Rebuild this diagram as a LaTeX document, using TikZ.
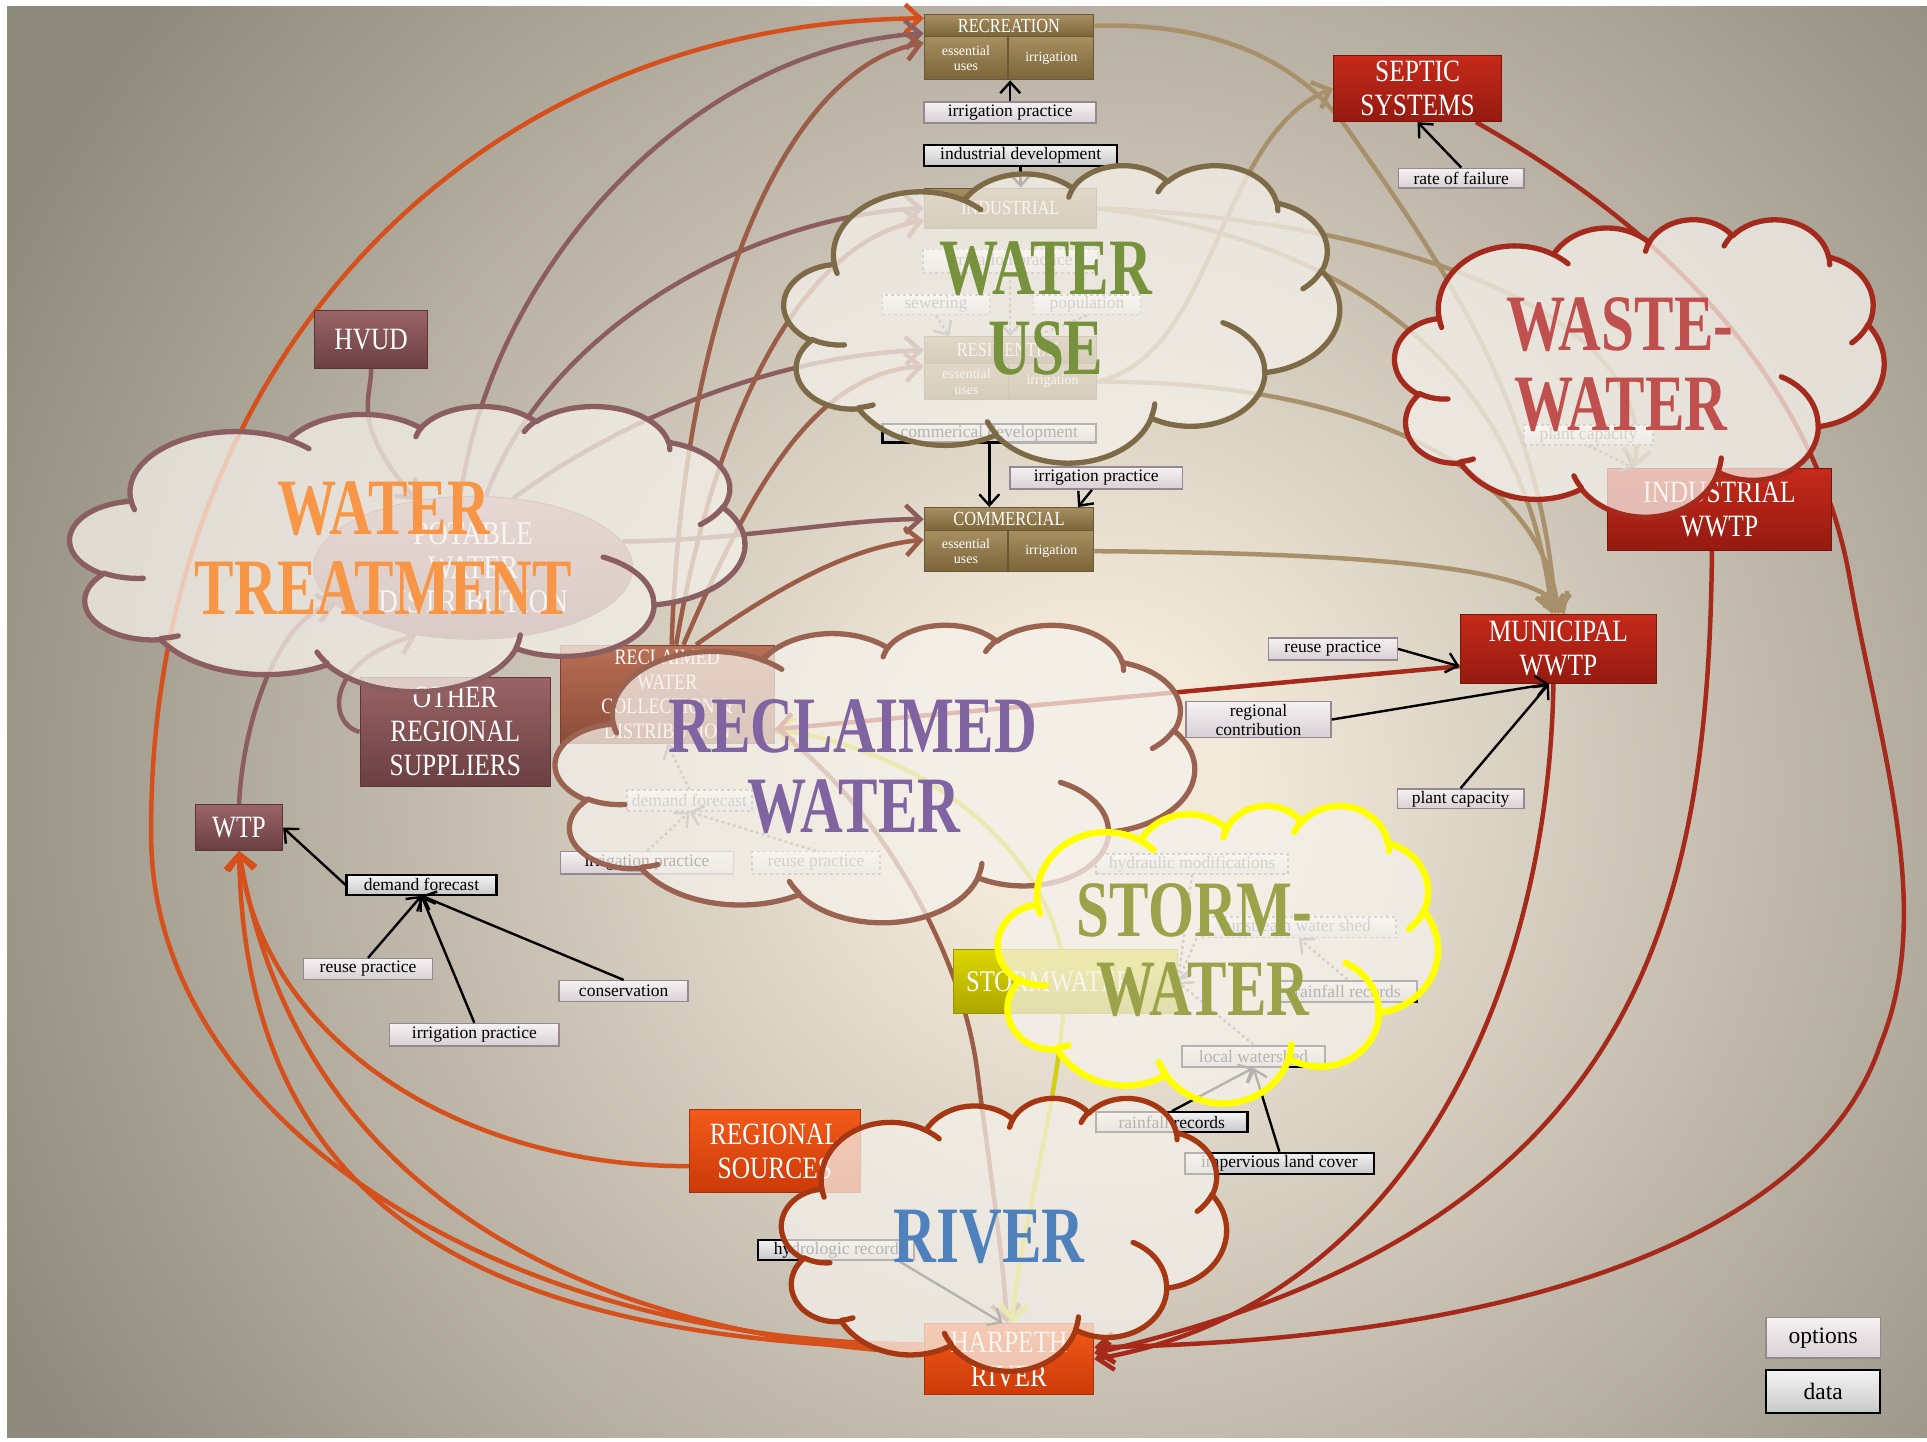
\documentclass[tikz,border=0pt]{standalone}
\usepackage{fontspec}
\setmainfont{Liberation Serif}
\newfontfamily\condf[FakeStretch=0.82]{Liberation Serif}
\newfontfamily\bigf[FakeStretch=0.74]{Liberation Serif}
\usetikzlibrary{arrows.meta,fit,shapes.geometric,calc}

\definecolor{bgin}{HTML}{F2E9D9}
\definecolor{bgout}{HTML}{8E897D}
\definecolor{tanT}{HTML}{A68E60}
\definecolor{tanB}{HTML}{7A6439}
\definecolor{tanD}{HTML}{6A5734}
\definecolor{marT}{HTML}{9A6466}
\definecolor{marB}{HTML}{6A3F42}
\definecolor{marD}{HTML}{5A3436}
\definecolor{redT}{HTML}{C62A1A}
\definecolor{redB}{HTML}{941A10}
\definecolor{redD}{HTML}{7A1408}
\definecolor{oraT}{HTML}{F25A1A}
\definecolor{oraB}{HTML}{CC3A08}
\definecolor{oraD}{HTML}{A83008}
\definecolor{rclT}{HTML}{B86F55}
\definecolor{rclB}{HTML}{8C4C38}
\definecolor{rclD}{HTML}{7A3F2E}
\definecolor{stoT}{HTML}{DCD700}
\definecolor{stoB}{HTML}{ABA500}
\definecolor{stoD}{HTML}{9A9400}
\definecolor{labT}{HTML}{F6F1F3}
\definecolor{labB}{HTML}{D8D0D4}
\definecolor{labD}{HTML}{968890}
\definecolor{lbkT}{HTML}{F4F4F4}
\definecolor{lbkB}{HTML}{C8C8C8}
\definecolor{pwdT}{HTML}{BC8C8E}
\definecolor{pwdB}{HTML}{8A5E60}
\definecolor{cloudfill}{HTML}{F6F2EB}
\definecolor{wuC}{HTML}{7D6A46}
\definecolor{wtC}{HTML}{8B5F61}
\definecolor{wwC}{HTML}{A52A1E}
\definecolor{rwC}{HTML}{9A6250}
\definecolor{swC}{HTML}{FFFF00}
\definecolor{rvC}{HTML}{A53712}
\definecolor{wuT}{HTML}{76923C}
\definecolor{wtT}{HTML}{F79646}
\definecolor{wwT}{HTML}{C0504D}
\definecolor{rwT}{HTML}{8064A2}
\definecolor{swT}{HTML}{9BA34A}
\definecolor{rvT}{HTML}{4F81BD}
\definecolor{orangeC}{HTML}{D6501C}
\definecolor{mauveC}{HTML}{8B5D5F}
\definecolor{brownC}{HTML}{9B5C48}
\definecolor{tanC}{HTML}{A8916A}
\definecolor{redC}{HTML}{A62A1C}
\definecolor{yellowC}{HTML}{D2CE10}

\pgfdeclareradialshading{bgshade}{\pgfpoint{0bp}{0bp}}{color(0bp)=(bgin); color(3bp)=(bgin); color(25bp)=(bgout); color(50bp)=(bgout)}

\pgfdeclarelayer{back}
\pgfdeclarelayer{lines}
\pgfdeclarelayer{clouds}
\pgfdeclarelayer{toplab}
\pgfsetlayers{back,lines,main,clouds,toplab}

\def\cloudmain{(0.09028,0.33264)
 arc[x radius=0.15632,y radius=0.21273,start angle=172.25,delta angle=128.12]
 arc[x radius=0.12345,y radius=0.16822,start angle=-152.03,delta angle=106.56]
 arc[x radius=0.10104,y radius=0.13762,start angle=-153.50,delta angle=116.18]
 arc[x radius=0.11243,y radius=0.15266,start angle=-139.71,delta angle=129.50]
 arc[x radius=0.12345,y radius=0.16836,start angle=-74.76,delta angle=97.97]
 arc[x radius=0.15683,y radius=0.21343,start angle=-37.53,delta angle=119.39]
 arc[x radius=0.13391,y radius=0.18211,start angle=0.46,delta angle=121.51]
 arc[x radius=0.15630,y radius=0.21331,start angle=16.84,delta angle=129.39]
 arc[x radius=0.17870,y radius=0.24405,start angle=58.98,delta angle=91.20]
 arc[x radius=0.10093,y radius=0.13699,start angle=83.31,delta angle=139.81]
 arc[x radius=0.10058,y radius=0.13762,start angle=120.36,delta angle=143.75]
 -- cycle}
\def\clouddet{(0.10863,0.60595) arc[x radius=0.10058,y radius=0.13762,start angle=85.54,delta angle=34.82]
 (0.16037,0.80785) arc[x radius=0.10093,y radius=0.13699,start angle=68.25,delta angle=15.06]
 (0.38144,0.90486) arc[x radius=0.15630,y radius=0.21331,start angle=146.23,delta angle=12.24]
 (0.66729,0.80442) arc[x radius=0.15630,y radius=0.21331,start angle=4.74,delta angle=12.10]
 (0.79002,0.53134) arc[x radius=0.13391,y radius=0.18211,start angle=-63.99,delta angle=64.45]
 (0.96755,0.35542) arc[x radius=0.12345,y radius=0.16836,start angle=23.21,delta angle=26.43]
 (0.88713,0.12560) arc[x radius=0.11243,y radius=0.15266,start angle=-10.21,delta angle=11.03]
 (0.67310,0.09148) arc[x radius=0.11243,y radius=0.15266,start angle=-156.27,delta angle=16.56]
 (0.51252,0.10926) arc[x radius=0.10104,y radius=0.13762,start angle=-167.73,delta angle=14.23]
 (0.32407,0.12019) arc[x radius=0.15632,y radius=0.21273,start angle=-59.63,delta angle=13.89]
 (0.09553,0.36549) arc[x radius=0.15632,y radius=0.21273,start angle=163.20,delta angle=9.05]}
\newcommand\drawcloud[5]{%
 \begin{scope}[shift={(#1,#2)},xscale=#3,yscale=#4]
 \path[fill=cloudfill, fill opacity=0.74, line width=5.3pt, line join=round, #5] \cloudmain;
 \path[line width=5.3pt, line cap=round, #5] \clouddet;
 \end{scope}}

\tikzset{
 shp/.style={inner sep=0pt, line width=1pt},
 tanbox/.style={shp, top color=tanT, bottom color=tanB, draw=tanD},
 maroonbox/.style={shp, top color=marT, bottom color=marB, draw=marD},
 redbox/.style={shp, top color=redT, bottom color=redB, draw=redD},
 orangebox/.style={shp, top color=oraT, bottom color=oraB, draw=oraD},
 reclbox/.style={shp, top color=rclT, bottom color=rclB, draw=rclD},
 stormbox/.style={shp, top color=stoT, bottom color=stoB, draw=stoD},
 lab/.style={inner sep=0pt, top color=labT, bottom color=labB, draw=labD, line width=1.5pt},
 labk/.style={lab, top color=lbkT, bottom color=lbkB, draw=black, line width=2.2pt},
 ghost/.style={lab, dashed, draw=gray, top color=white, bottom color=labB},
 txt/.style={inner sep=0pt, align=center},
 hdt/.style={txt, text=white, font=\condf\fontsize{20}{22}\selectfont},
 subt/.style={txt, text=white, font=\fontsize{14}{15.5}\selectfont},
 bigt/.style={txt, text=white, font=\condf\fontsize{31}{34}\selectfont},
 rclt/.style={txt, text=white, font=\condf\fontsize{22}{24.5}\selectfont},
 lt/.style={txt, text=black, font=\fontsize{17.5}{19}\selectfont},
 gt/.style={lt, text=black!55},
 conn/.style={line width=4.5pt, -{Straight Barb[length=15pt,width=28pt]}},
 barrow/.style={line width=2.4pt, black, -{Straight Barb[length=11pt,width=20pt]}},
 garrow/.style={barrow, black!55, dashed},
 cl/.style={anchor=base, inner sep=0pt, font=\bigf\bfseries\fontsize{80}{80}\selectfont},
}

\begin{document}
\begin{tikzpicture}[x=1.22895pt,y=-1.22895pt]
\useasboundingbox (0,0) rectangle (1568,1172.6);
\begin{pgfonlayer}{back}
\fill[white] (0,0) rectangle (1568,1172.6);
\fill[bgout] (6,5) rectangle (1568,1170);
\begin{scope}
\clip (6,5) rectangle (1568,1170);
\shade[shading=bgshade] (890,640) circle (1000);
\end{scope}
\end{pgfonlayer}

% ---------- water-use boxes
\node[tanbox, fit={(752,12) (890,30)}] (recr) {};
\node[tanbox, fit={(752,30) (820,65)}] (recre) {};
\node[tanbox, fit={(821,30) (890,65)}] (recri) {};
\node[hdt] (recrT) at (recr.center) {RECREATION};
\node[subt] (recreT) at (recre.center) {essential\\uses};
\node[subt] (recriT) at (recri.center) {irrigation};
\node[tanbox, fit={(752,153) (892,186)}] (ind) {};
\node[hdt] (indT) at (ind.center) {INDUSTRIAL};
\node[tanbox, fit={(752,274) (892,296)}] (res) {};
\node[tanbox, fit={(752,296) (821,325)}] (rese) {};
\node[tanbox, fit={(821,296) (892,325)}] (resi) {};
\node[hdt] (resT) at (res.center) {RESIDENTIAL};
\node[subt] (reseT) at (rese.center) {essential\\uses};
\node[subt] (resiT) at (resi.center) {irrigation};
\node[tanbox, fit={(752,413) (890,432)}] (com) {};
\node[tanbox, fit={(752,432) (820,465)}] (come) {};
\node[tanbox, fit={(821,432) (890,465)}] (comi) {};
\node[hdt] (comT) at (com.center) {COMMERCIAL};
\node[subt] (comeT) at (come.center) {essential\\uses};
\node[subt] (comiT) at (comi.center) {irrigation};

% ---------- label boxes
\node[lab, fit={(752,83) (892,100)}] (ipRec) {};
\node[lt] at (ipRec.center) (ipRecT) {irrigation practice};
\node[labk, fit={(752,118) (909,135)}] (indDev) {};
\node[lt] at (indDev.center) (indDevT) {industrial development};
\node[ghost, fit={(751,203) (893,222)}] (ipInd) {};
\node[gt] at (ipInd.center) (ipIndT) {irrigation practice};
\node[ghost, fit={(718,240) (805,256)}] (sew) {};
\node[gt] at (sew.center) (sewT) {sewering};
\node[ghost, fit={(841,240) (928,256)}] (pop) {};
\node[gt] at (pop.center) (popT) {population};
\node[labk, fit={(718,345) (892,360)}] (comDev) {};
\node[lt] at (comDev.center) (comDevT) {commerical development};
\node[lab, fit={(822,380) (962,398)}] (ipCom) {};
\node[lt] at (ipCom.center) (ipComT) {irrigation practice};
\node[lab, fit={(1138,137) (1240,153)}] (rof) {};
\node[lt] at (rof.center) (rofT) {rate of failure};
\node[ghost, fit={(1240,346) (1345,362)}] (pcWW) {};
\node[gt] at (pcWW.center) (pcWWT) {plant capacity};
\node[lab, fit={(1032,519) (1137,537)}] (reuseM) {};
\node[lt] at (reuseM.center) (reuseMT) {reuse practice};
\node[lab, fit={(965,571) (1083,600)}] (regc) {};
\node[lt] at (regc.center) (regcT) {regional\\contribution};
\node[lab, fit={(1137,642) (1240,658)}] (pcM) {};
\node[lt] at (pcM.center) (pcMT) {plant capacity};
\node[ghost, fit={(510,643) (612,660)}] (dfR) {};
\node[gt] at (dfR.center) (dfRT) {demand forecast};
\node[lab, fit={(456,693) (597,711)}] (ipR) {};
\node[lt] at (ipR.center) (ipRT) {irrigation practice};
\node[ghost, fit={(612,693) (716,711)}] (rpR) {};
\node[gt] at (rpR.center) (rpRT) {reuse practice};
\node[labk, fit={(282,712) (404,728)}] (df) {};
\node[lt] at (df.center) (dfT) {demand forecast};
\node[lab, fit={(247,780) (352,797)}] (rp) {};
\node[lt] at (rp.center) (rpT) {reuse practice};
\node[lab, fit={(317,833) (455,851)}] (ip) {};
\node[lt] at (ip.center) (ipT) {irrigation practice};
\node[lab, fit={(455,798) (560,815)}] (cons) {};
\node[lt] at (cons.center) (consT) {conservation};
\node[ghost, fit={(892,695) (1048,711)}] (hyd) {};
\node[gt] at (hyd.center) (hydT) {hydraulic modifications};
\node[ghost, fit={(978,746) (1136,763)}] (upw) {};
\node[gt] at (upw.center) (upwT) {upstream water shed};
\node[labk, fit={(1040,798) (1153,815)}] (rfS) {};
\node[lt] at (rfS.center) (rfST) {rainfall records};
\node[labk, fit={(962,851) (1078,868)}] (lws) {};
\node[lt] at (lws.center) (lwsT) {local watershed};
\node[labk, fit={(892,905) (1015,921)}] (rf2) {};
\node[lt] at (rf2.center) (rf2T) {rainfall records};
\node[labk, fit={(964,938) (1118,955)}] (ilc) {};
\node[lt] at (ilc.center) (ilcT) {impervious land cover};
\node[labk, fit={(617,1009) (744,1025)}] (hydro) {};
\node[lt] at (hydro.center) (hydroT) {hydrologic record};
\node[lab, fit={(1437,1072) (1530,1105)}] (opt) {};
\node[lt, font=\fontsize{23.5}{25}\selectfont] at (opt.center) (optT) {options};
\node[labk, fit={(1437,1115) (1530,1150)}] (data) {};
\node[lt, font=\fontsize{23.5}{25}\selectfont] at (data.center) (dataT) {data};

% ---------- coloured boxes
\node[maroonbox, fit={(256,253) (348,300)}] (hvud) {};
\node[bigt] at (hvud.center) (hvudT) {HVUD};
\node[redbox, fit={(1085,45) (1222,99)}] (septic) {};
\node[bigt] at (septic.center) (septicT) {SEPTIC\\SYSTEMS};
\node[redbox, fit={(1308,381) (1490,448)}] (iw) {};
\node[bigt] at (iw.center) (iwT) {INDUSTRIAL\\WWTP};
\node[redbox, fit={(1188,500) (1348,556)}] (mun) {};
\node[bigt] at (mun.center) (munT) {MUNICIPAL\\WWTP};
\node[maroonbox, fit={(293,551) (448,640)}] (other) {};
\node[bigt] at (other.center) (otherT) {OTHER\\REGIONAL\\SUPPLIERS};
\node[reclbox, fit={(456,525) (630,605)}] (recl) {};
\node[rclt] at (recl.center) (reclT) {RECLAIMED\\WATER\\COLLECTION \&\\DISTRIBUTION};
\node[maroonbox, fit={(159,655) (230,692)}] (wtp) {};
\node[bigt] at (wtp.center) (wtpT) {WTP};
\node[stormbox, fit={(776,773) (958,825)}] (storm) {};
\node[bigt, anchor=west, font=\condf\fontsize{30}{32}\selectfont] (stormT) at (786,799) {STORMWATER};
\node[orangebox, fit={(561,903) (700,970)}] (regsrc) {};
\node[bigt] at (regsrc.center) (regsrcT) {REGIONAL\\SOURCES};
\node[orangebox, fit={(752,1077) (890,1135)}] (harp) {};
\node[bigt] at (harp.center) (harpT) {HARPETH\\RIVER};
\node[ellipse, inner sep=0pt, minimum width=319pt, minimum height=143pt, top color=pwdT, bottom color=pwdB, draw=pwdB, line width=1pt] (pwd) at (385,462) {};
\node[bigt, font=\condf\fontsize{33}{34}\selectfont] at (pwd.center) (pwdT) {POTABLE\\WATER\\DISTRIBUTION};

% ---------- connectors
\begin{pgfonlayer}{lines}
\draw[conn, orangeC] (harp.170) .. controls (405,1094) and (123,909) .. (123,680) .. controls (120,300) and (380,18) .. (recr.175);
\draw[conn, orangeC] (regsrc.190) .. controls (380,950) and (215,850) .. (wtp.south);
\draw[conn, orangeC] (harp.176) .. controls (460,1085) and (240,960) .. (wtp.south);
\draw[conn, orangeC] (harp.173) .. controls (400,1090) and (200,990) .. (wtp.south);

\draw[conn, mauveC] (pwd.100) .. controls (400,220) and (560,40) .. (recr.185);
\draw[conn, mauveC] (pwd.80) .. controls (450,260) and (620,175) .. (ind.west);
\draw[conn, mauveC] (pwd.60) .. controls (520,330) and (650,288) .. (res.west);
\draw[conn, mauveC] (pwd.10) .. controls (600,440) and (690,422) .. (com.west);
\draw[conn, mauveC] (hvud.south) .. controls (302,325) and (285,345) .. (pwd.130);
\draw[conn, mauveC] (wtp.north) .. controls (198,580) and (230,500) .. (pwd.195);
\draw[conn, mauveC] (other.west) .. controls (268,590) and (262,540) .. (pwd.230);

\draw[conn, brownC] (recl.85) .. controls (555,250) and (640,55) .. (recre.160);
\draw[conn, brownC] (recl.80) .. controls (585,320) and (660,195) .. (ind.188);
\draw[conn, brownC] (recl.72) .. controls (610,400) and (660,305) .. (rese.160);
\draw[conn, brownC] (recl.60) .. controls (630,480) and (690,445) .. (come.165);
\draw[conn, brownC] (recl.-18) .. controls (700,640) and (780,760) .. (795,870) .. controls (805,950) and (815,1010) .. (harp.93);

\draw[conn, yellowC] (storm.center) .. controls (862,700) and (760,612) .. (recl.-18);
\draw[conn, yellowC] (storm.center) .. controls (862,900) and (830,1000) .. (harp.85);

\draw[conn, tanC] (recr.east) .. controls (990,18) and (1060,50) .. (1100,110) .. controls (1170,210) and (1255,330) .. (mun.95);
\draw[conn, tanC] (resi.east) .. controls (990,290) and (990,110) .. (septic.west);
\draw[conn, tanC] (ind.east) .. controls (1150,180) and (1350,260) .. (iw.154);
\draw[conn, tanC] (ind.east) .. controls (1100,195) and (1240,300) .. (mun.100);
\draw[conn, tanC] (resi.east) .. controls (1100,310) and (1255,380) .. (mun.90);
\draw[conn, tanC] (comi.east) .. controls (1100,450) and (1250,460) .. (mun.80);

\draw[conn, redC] (septic.-30) .. controls (1380,200) and (1480,330) .. (1505,470) .. controls (1530,610) and (1575,740) .. (1530,850) .. controls (1480,1000) and (1250,1090) .. (harp.8);
\draw[conn, redC] (iw.-100) .. controls (1390,750) and (1330,1000) .. (harp.4);
\draw[conn, redC] (mun.-98) .. controls (1260,800) and (1150,1060) .. (harp.0);
\draw[conn, redC] (mun.190) -- (recl.-18);
\end{pgfonlayer}

% ---------- black / grey arrows
\draw[barrow] (ipRec.north) -- (ipRec.north |- recre.south);
\draw[barrow] (indDev.south) -- (indDev.south |- ind.north);
\draw[garrow] (ipInd.south) -- (ipInd.south |- res.north);
\draw[garrow] (sew.south) -- (res.167);
\draw[garrow] (pop.south) -- (res.29);
\draw[barrow] (comDev.south) -- (comDev.south |- com.north);
\draw[barrow] (ipCom.-110) -- (com.10);
\draw[barrow] (rof.north) -- (septic.-90);
\draw[garrow] (pcWW.south) -- (iw.154);
\draw[barrow] (reuseM.east) -- (mun.190);
\draw[barrow] (regc.east) -- (mun.-105);
\draw[barrow] (pcM.north) -- (mun.-105);
\draw[barrow] (df.west) -- (wtp.east);
\draw[barrow] (rp.north) -- (df.south);
\draw[barrow] (ip.north) -- (df.south);
\draw[barrow] (cons.north) -- (df.south);
\draw[garrow] (dfR.north) -- (recl.south);
\draw[garrow] (ipR.north) -- (dfR.south);
\draw[garrow] (rpR.north) -- (dfR.south);
\draw[garrow] (hyd.south) -- (storm.east);
\draw[garrow] (upw.west) -- (storm.east);
\draw[garrow] (lws.north) -- (storm.east);
\draw[garrow] (rfS.north) -- (upw.south);
\draw[barrow] (rf2.north) -- (lws.south);
\draw[barrow] (ilc.north) -- (lws.south);
\draw[barrow] (hydro.-10) -- (harp.100);

% ---------- clouds
\begin{pgfonlayer}{clouds}
\drawcloud{638}{134}{452}{242}{draw=wuC}
\drawcloud{1135}{178}{398}{242}{draw=wwC}
\drawcloud{57}{330}{549}{232}{draw=wtC}
\drawcloud{452}{508}{520}{242}{draw=rwC}
\drawcloud{812}{655}{358}{242}{draw=swC, line width=6.5pt}
\drawcloud{636}{893}{362}{222}{draw=rvC}
\end{pgfonlayer}

% ---------- cloud titles
\begin{pgfonlayer}{toplab}
\node[cl, text=wuT] (wu1) at (851,240) {WATER};
\node[cl, text=wuT] (wu2) at (851,305) {USE};
\node[cl, text=wtT] (wt1) at (312,435) {WATER};
\node[cl, text=wtT] (wt2) at (312,500) {TREATMENT};
\node[cl, text=wwT] (ww1) at (1318,285) {WASTE-};
\node[cl, text=wwT] (ww2) at (1319,350) {WATER};
\node[cl, text=rwT] (rw1) at (694,612) {RECLAIMED};
\node[cl, text=rwT] (rw2) at (695,677) {WATER};
\node[cl, text=swT] (sw1) at (972,762) {STORM-};
\node[cl, text=swT] (sw2) at (979,826) {WATER};
\node[cl, text=rvT] (rv1) at (805,1027) {RIVER};
\end{pgfonlayer}
\end{tikzpicture}
\end{document}
